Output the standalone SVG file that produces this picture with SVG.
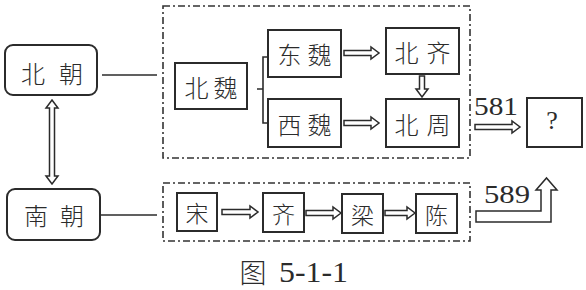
<svg xmlns="http://www.w3.org/2000/svg" width="586" height="290" viewBox="0 0 586 290">
<style>
.bg{fill:#fff}
.box{fill:#fff;stroke:#2b2b2b;stroke-width:2}
.grp{fill:none;stroke:#333;stroke-width:1.6;stroke-dasharray:7 3 2 3}
.ln{fill:none;stroke:#2b2b2b;stroke-width:1.6}
.ar{fill:#fff;stroke:#2b2b2b;stroke-width:1.5;stroke-linejoin:miter}
.cjk{font-family:"Noto Sans CJK SC","Noto Sans CJK JP",sans-serif;font-weight:300;font-size:24px;fill:#2b2b2b;text-anchor:middle;dominant-baseline:central}
.one{font-size:23px}
.num{font-family:"Liberation Serif","Times New Roman",serif;font-size:26px;fill:#2b2b2b}
</style>
<rect class="bg" width="586" height="290"/>
<g id="groups">
<rect class="grp" x="163" y="6" width="307" height="152"/>
<rect class="grp" x="163" y="183" width="307" height="58"/>
</g>
<g id="connectors">
<path class="ln" d="M102,75 H157"/>
<path class="ln" d="M100,215 H157"/>
<path class="ln" d="M268,57 H263 V123 H268 M257,89 H263"/>
<path class="ar" d="M52,100 L58,108 H54.5 V176 H58 L52,184 L46,176 H49.5 V108 H46 Z"/>
<path class="ar" d="M344,50.5 H371 V47 L379,53 L371,59 V55.5 H344 Z"/>
<path class="ar" d="M344,120.5 H371 V117 L379,123 L371,129 V125.5 H344 Z"/>
<path class="ar" d="M419.5,76 V89 H416 L422,97 L428,89 H424.5 V76 Z"/>
<path class="ar" d="M475,124.5 H512 V121 L520,127 L512,133 V129.5 H475 Z"/>
<path class="ar" d="M222,209.5 H250 V206 L258,212 L250,218 V214.5 H222 Z"/>
<path class="ar" d="M306,210.5 H333 V207 L341,213 L333,219 V215.5 H306 Z"/>
<path class="ar" d="M385,210.5 H407 V207 L415,213 L407,219 V215.5 H385 Z"/>
<path class="ar" d="M476,211 H541 V190 H536 L546.5,178 L557,190 H551 V222 H476 Z"/>
<text class="num" x="474" y="115" textLength="44" lengthAdjust="spacingAndGlyphs">581</text>
<text class="num" x="484" y="203" textLength="46" lengthAdjust="spacingAndGlyphs">589</text>
</g>
<g id="beichao">
<rect class="box" x="5" y="45" width="92" height="50" rx="8"/>
<text class="cjk" x="52" y="72" letter-spacing="14" dx="7">北朝</text>
</g>
<g id="nanchao">
<rect class="box" x="7" y="189" width="93" height="51" rx="8"/>
<text class="cjk" x="54" y="214" letter-spacing="12" dx="6">南朝</text>
</g>
<g id="beiwei">
<rect class="box" x="175" y="63" width="72" height="46"/>
<text class="cjk" x="211" y="86" letter-spacing="5" dx="2.5">北魏</text>
</g>
<g id="dongwei">
<rect class="box" x="268" y="30" width="73" height="47"/>
<text class="cjk" x="304.5" y="53" letter-spacing="6" dx="3">东魏</text>
</g>
<g id="xiwei">
<rect class="box" x="268" y="99" width="73" height="48"/>
<text class="cjk" x="304.5" y="123" letter-spacing="6" dx="3">西魏</text>
</g>
<g id="beiqi">
<rect class="box" x="386" y="28" width="73" height="46"/>
<text class="cjk" x="422.5" y="51" letter-spacing="8" dx="4">北齐</text>
</g>
<g id="beizhou">
<rect class="box" x="386" y="99" width="73" height="48"/>
<text class="cjk" x="422.5" y="123" letter-spacing="8" dx="4">北周</text>
</g>
<g id="unknown">
<rect class="box" x="527" y="98" width="55" height="49"/>
<text class="num" x="552" y="129" text-anchor="middle">?</text>
</g>
<g id="song">
<rect class="box" x="177" y="193" width="40" height="38"/>
<text class="cjk one" x="197" y="212">宋</text>
</g>
<g id="qi">
<rect class="box" x="263" y="193" width="41" height="39"/>
<text class="cjk one" x="283.5" y="212.5">齐</text>
</g>
<g id="liang">
<rect class="box" x="342" y="194" width="41" height="39"/>
<text class="cjk one" x="362.5" y="213.5">梁</text>
</g>
<g id="chen">
<rect class="box" x="416" y="194" width="41" height="39"/>
<text class="cjk one" x="436.5" y="213.5">陈</text>
</g>
<g id="caption">
<text class="cjk" x="253" y="271" style="font-size:27px">图</text>
<text class="num" x="279" y="282" style="font-size:30px" textLength="69" lengthAdjust="spacingAndGlyphs">5-1-1</text>
</g>
</svg>
